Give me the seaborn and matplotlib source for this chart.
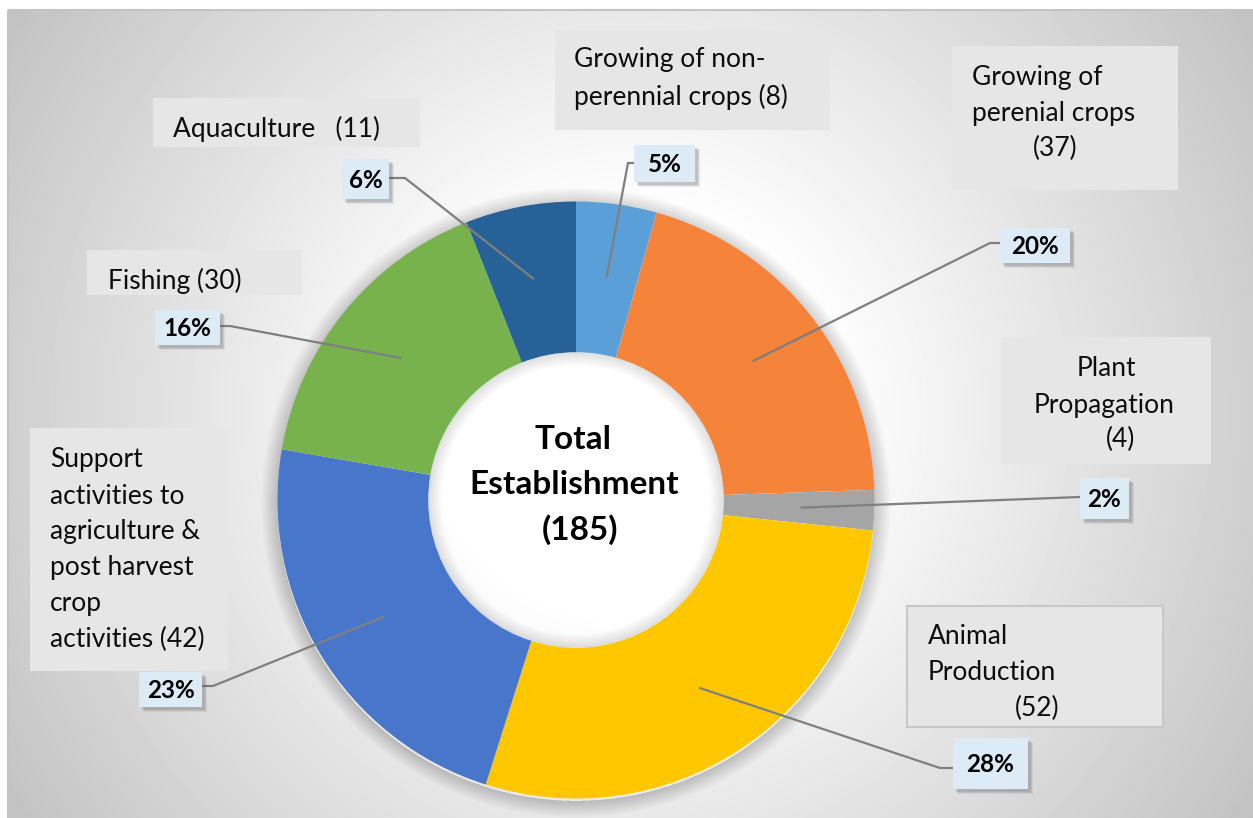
import numpy as np
import matplotlib
matplotlib.use("Agg")
import matplotlib.pyplot as plt
from matplotlib.patches import Rectangle, Wedge
import seaborn as sns

# ---------------- data ----------------
categories = [
    "Growing of non-\nperennial crops (8)",
    "Growing of\nperenial crops\n(37)",
    "Plant\nPropagation\n(4)",
    "Animal\nProduction\n(52)",
    "Support\nactivities to\nagriculture &\npost harvest\ncrop\nactivities (42)",
    "Fishing (30)",
    "Aquaculture   (11)",
]
counts = [8, 37, 4, 52, 42, 30, 11]
pct_labels = ["5%", "20%", "2%", "28%", "23%", "16%", "6%"]
center_lines = ["Total", "Establishment", "(185)"]
colors = ["#5B9FD9", "#F5833A", "#A5A5A5", "#FFC700", "#4876CB", "#77B24D", "#266298"]

# ---------------- style ----------------
sns.set_theme(style="white")
plt.rcParams['font.family'] = ['Lato', 'DejaVu Sans']
palette = sns.color_palette(colors)

W, H = 1253, 818
fig = plt.figure(figsize=(W / 100, H / 100), dpi=100)
fig.patch.set_facecolor('white')

# ---------------- background panel (radial gradient) ----------------
bg = fig.add_axes([0, 0, 1, 1])
px0, py0 = 8, 10
yy, xx = np.mgrid[py0:H, px0:W]
d = np.hypot(xx - 630, yy - 414)
v = 1 - 0.24 * np.clip((d - 200) / 543, 0, 1)
bg.imshow(v, cmap='gray', vmin=0, vmax=1, extent=(px0, W, H, py0),
          interpolation='bilinear', aspect='auto', zorder=0)
bg.add_patch(Rectangle((px0, py0), W - px0 + 5, H - py0 + 5, fill=False,
                       edgecolor='#C4C4C4', lw=1.5, zorder=1))
bg.set_xlim(0, W); bg.set_ylim(H, 0); bg.axis('off')

# ---------------- donut ----------------
R = 298.5
cx, cy = 576, 500
L = 1.15
pa = fig.add_axes([(cx - L * R) / W, (H - cy - L * R) / H, 2 * L * R / W, 2 * L * R / H])
pa.patch.set_alpha(0)

# soft outer shadow
N = 16
for i in range(N):
    pa.add_patch(Wedge((0, -0.008), 1.0 + 0.055 * (i + 1) / N, 0, 360,
                       width=0.055 * (i + 1) / N, facecolor='black', alpha=0.012,
                       lw=0, zorder=0))

wedges, _ = pa.pie(counts, colors=palette, startangle=90, counterclock=False,
                   radius=1, wedgeprops=dict(width=0.505, linewidth=0))
for w in wedges:
    w.set_zorder(2)

# inner shadow in the hole
for i in range(N):
    pa.add_patch(Wedge((0, 0), 0.495, 0, 360, width=0.045 * (i + 1) / N,
                       facecolor='black', alpha=0.008, lw=0, zorder=1))
pa.set_xlim(-L, L); pa.set_ylim(-L, L)
pa.set_aspect('auto')
pa.axis('off')

# ---------------- overlay for labels ----------------
ov = fig.add_axes([0, 0, 1, 1])
ov.set_xlim(0, W); ov.set_ylim(H, 0); ov.axis('off'); ov.patch.set_alpha(0)

# center text
for txt, (tx, ty) in zip(center_lines, [(573, 437), (574, 482), (580, 528)]):
    ov.text(tx, ty + 12, txt, ha='center', va='baseline', fontsize=24,
            fontweight='bold', color='black')

# category label boxes: box (x0, y0, x1, y1), line positions (x, y_center)
label_layout = [
    ((555, 30, 830, 130), [(574, 57), (574, 95)]),
    ((952, 46, 1178, 190), [(972, 75), (972, 111), (1033, 147)]),
    ((1001, 337, 1211, 464), [(1077, 367), (1034, 403), (1106, 438)]),
    ((907, 606, 1163, 727), [(928, 635), (928, 671), (1015, 707)]),
    ((30, 428, 228, 671), [(50, 458), (50, 494), (50, 530), (50, 566), (50, 602), (50, 638)]),
    ((87, 250, 302, 295), [(108, 279)]),
    ((153, 98, 420, 147), [(173, 127)]),
]
for i, (cat, (box, lines)) in enumerate(zip(categories, label_layout)):
    x0, y0, x1, y1 = box
    ov.add_patch(Rectangle((x0, y0), x1 - x0, y1 - y0, facecolor='#E6E6E6',
                           edgecolor='#C8C8C8' if i == 3 else 'none', lw=1.5, zorder=3))
    for line, (lx, ly) in zip(cat.split("\n"), lines):
        ov.text(lx, ly + 9.5, line, ha='left', va='baseline', fontsize=19,
                color='#0D0D0D', zorder=4)

# percentage boxes: box (x0, y0, x1, y1), elbow point (x, y), attach side
pct_layout = [
    ((634, 145, 695, 182), (628, 163), 'left'),
    ((1000, 228, 1070, 263), (990, 243), 'left'),
    ((1080, 478, 1129, 519), (1080, 497), 'left'),
    ((953, 738, 1028, 789), (940, 768), 'left'),
    ((139, 672, 202, 707), (213, 686), 'right'),
    ((155, 310, 220, 345), (230, 326), 'right'),
    ((342, 159, 389, 199), (405, 178), 'right'),
]
for w, lab, (box, elbow, side) in zip(wedges, pct_labels, pct_layout):
    x0, y0, x1, y1 = box
    mid = np.deg2rad((w.theta1 + w.theta2) / 2)
    ix = cx + 0.7525 * R * np.cos(mid)
    iy = cy - 0.7525 * R * np.sin(mid)
    ax_ = x0 if side == 'left' else x1
    ov.plot([ax_, elbow[0], ix], [elbow[1], elbow[1], iy], color='#7F7F7F',
            lw=1.6, zorder=5, solid_capstyle='butt')
    # shadow
    for k, a in enumerate([0.10, 0.14, 0.18]):
        off = 5 - k
        ov.add_patch(Rectangle((x0 + off, y0 + off), x1 - x0, y1 - y0,
                               facecolor='#606060', alpha=a, lw=0, zorder=6))
    ov.add_patch(Rectangle((x0, y0), x1 - x0, y1 - y0, facecolor='#DDEBF7',
                           edgecolor='none', zorder=7))
    ov.text((x0 + x1) / 2, (y0 + y1) / 2 + 8.5, lab, ha='center', va='baseline',
            fontsize=17.5, fontweight='bold', color='black', zorder=8)

fig.savefig("out.png", dpi=100, facecolor='white')
